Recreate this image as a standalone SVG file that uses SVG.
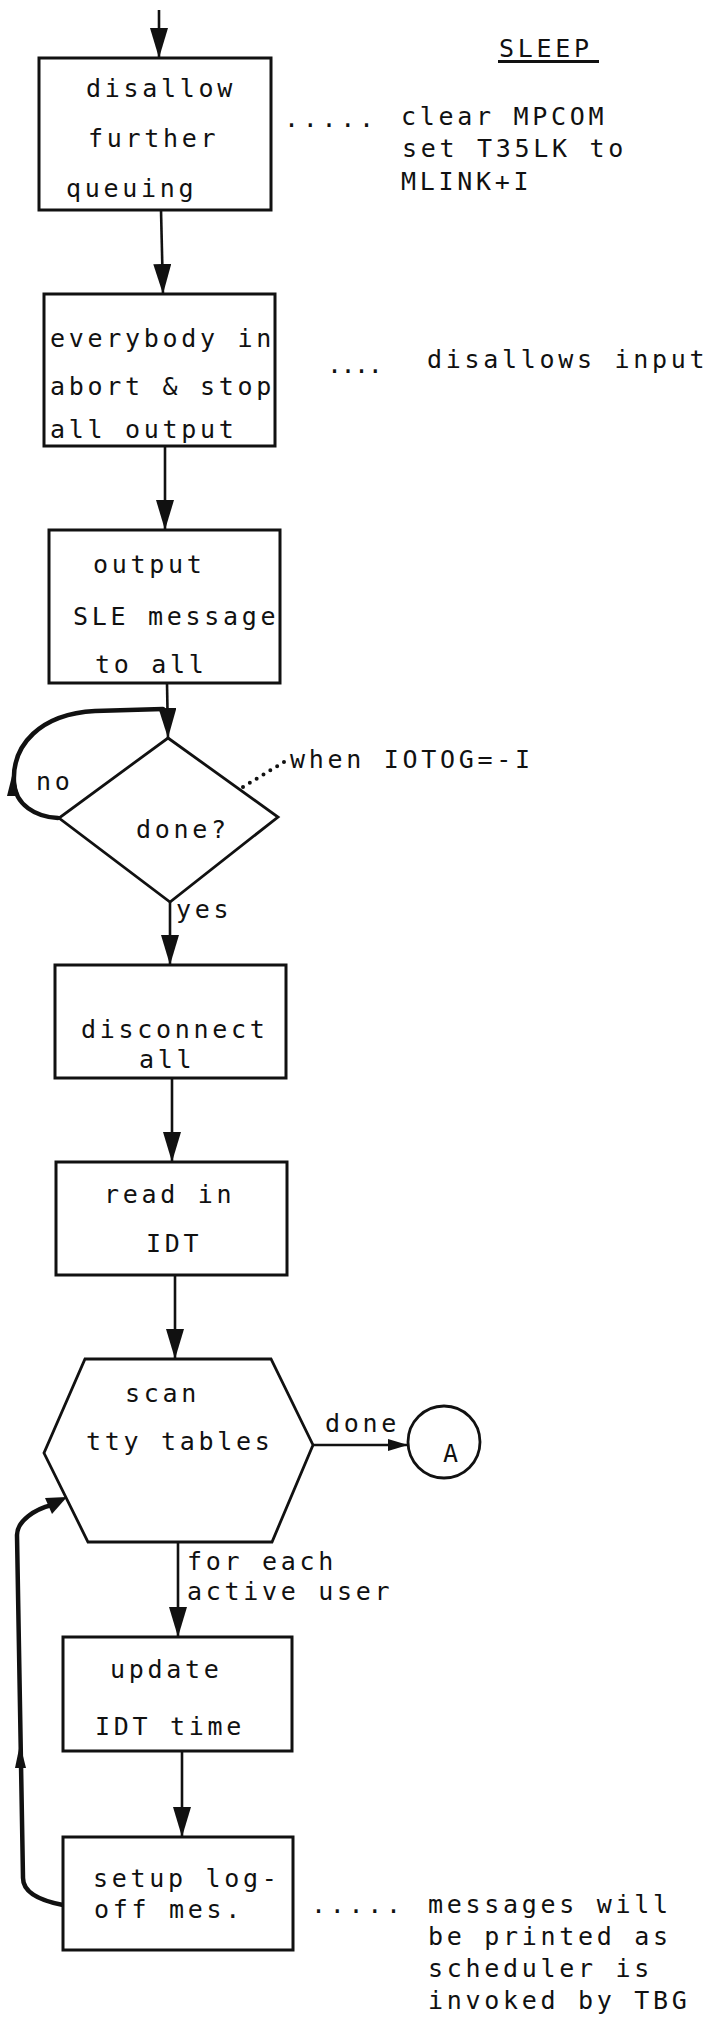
<svg xmlns="http://www.w3.org/2000/svg" width="720" height="2018" viewBox="0 0 720 2018">
<style>
text{font-family:"DejaVu Sans Mono","Liberation Mono",monospace;font-size:25px;letter-spacing:3.7px;fill:#111}
.box{fill:#fff;stroke:#111;stroke-width:3}
.shape{fill:#fff;stroke:#111;stroke-width:2.8;stroke-linejoin:miter}
.ln{fill:none;stroke:#111;stroke-width:2.6}
.thick{fill:none;stroke:#111;stroke-width:4.5;stroke-linecap:round}
.dots{fill:none;stroke:#111;stroke-width:4;stroke-linecap:round;stroke-dasharray:0 8}
</style>
<defs>
<marker id="ah" markerUnits="userSpaceOnUse" viewBox="0 0 30 18" markerWidth="30" markerHeight="18" refX="30" refY="9" orient="auto">
<path d="M0,0 L30,9 L0,18 Z" fill="#111"/>
</marker>
<marker id="ahs" markerUnits="userSpaceOnUse" viewBox="0 0 20 12" markerWidth="20" markerHeight="12" refX="20" refY="6" orient="auto">
<path d="M0,0 L20,6 L0,12 Z" fill="#111"/>
</marker>
</defs>
<rect width="720" height="2018" fill="#fff"/>

<g id="title">
<text x="499" y="57">SLEEP</text>
<rect x="498" y="60" width="101" height="3" fill="#111"/>
</g>

<g id="connectors">
<line class="ln" x1="159" y1="10" x2="159" y2="58" marker-end="url(#ah)"/>
<line class="ln" x1="161" y1="210" x2="163" y2="294" marker-end="url(#ah)"/>
<line class="ln" x1="165" y1="446" x2="165" y2="530" marker-end="url(#ah)"/>
<line class="ln" x1="167" y1="683" x2="168" y2="738" marker-end="url(#ah)"/>
<path class="thick" d="M58,818 C36,817 15,805 14,782 C12,745 40,714 95,711 L163,709"/>
<path d="M7,796 L13,772 L19,796 Z" fill="#111"/>
<line class="ln" x1="170" y1="902" x2="170" y2="965" marker-end="url(#ah)"/>
<line class="ln" x1="172" y1="1078" x2="172" y2="1162" marker-end="url(#ah)"/>
<line class="ln" x1="175" y1="1275" x2="175" y2="1359" marker-end="url(#ah)"/>
<line class="ln" x1="313" y1="1445" x2="408" y2="1445" marker-end="url(#ahs)"/>
<line class="ln" x1="178" y1="1542" x2="178" y2="1637" marker-end="url(#ah)"/>
<line class="ln" x1="182" y1="1751" x2="182" y2="1837" marker-end="url(#ah)"/>
<path class="thick" d="M63,1905 C42,1901 23,1894 23,1878 L17,1535 C17,1521 35,1509 52,1505"/>
<path d="M45,1498 L67,1497 L52,1514 Z" fill="#111"/>
<path d="M15,1768 L20,1744 L26,1768 Z" fill="#111"/>
<path class="dots" d="M243,787 L284,762"/>
</g>

<g id="n1">
<rect class="box" x="39" y="58" width="232" height="152"/>
<text x="86" y="97">disallow</text>
<text x="88" y="147">further</text>
<text x="66" y="197">queuing</text>
</g>
<g id="n1note">
<text x="284" y="127">.....</text>
<text x="401" y="125">clear MPCOM</text>
<text x="402" y="157">set T35LK to</text>
<text x="401" y="190">MLINK+I</text>
</g>

<g id="n2">
<rect class="box" x="44" y="294" width="231" height="152"/>
<text x="50" y="347">everybody in</text>
<text x="50" y="395">abort &amp; stop</text>
<text x="50" y="438">all output</text>
</g>
<g id="n2note">
<text x="327" y="373" style="letter-spacing:-1.5px">....</text>
<text x="427" y="368">disallows input</text>
</g>

<g id="n3">
<rect class="box" x="49" y="530" width="231" height="153"/>
<text x="93" y="573">output</text>
<text x="73" y="625">SLE message</text>
<text x="95" y="673">to all</text>
</g>

<g id="n4">
<polygon class="shape" points="168,738 278,817 170,902 59,818"/>
<text x="136" y="838">done?</text>
<text x="36" y="790">no</text>
<text x="290" y="768">when IOTOG=-I</text>
<text x="176" y="918">yes</text>
</g>

<g id="n5">
<rect class="box" x="55" y="965" width="231" height="113"/>
<text x="81" y="1038">disconnect</text>
<text x="139" y="1068">all</text>
</g>

<g id="n6">
<rect class="box" x="56" y="1162" width="231" height="113"/>
<text x="104" y="1203">read in</text>
<text x="146" y="1252">IDT</text>
</g>

<g id="n7">
<polygon class="shape" points="85,1359 271,1359 313,1445 272,1542 88,1542 44,1453"/>
<text x="125" y="1402">scan</text>
<text x="86" y="1450">tty tables</text>
<text x="325" y="1432">done</text>
</g>

<g id="n8">
<circle class="shape" cx="444" cy="1442" r="36"/>
<text x="443" y="1462">A</text>
</g>

<g id="n9label">
<text x="187" y="1570">for each</text>
<text x="187" y="1600">active user</text>
</g>

<g id="n9">
<rect class="box" x="63" y="1637" width="229" height="114"/>
<text x="110" y="1678">update</text>
<text x="95" y="1735">IDT time</text>
</g>

<g id="n10">
<rect class="box" x="63" y="1837" width="230" height="113"/>
<text x="93" y="1887">setup log-</text>
<text x="94" y="1918">off mes.</text>
</g>
<g id="n10note">
<text x="311" y="1913">.....</text>
<text x="428" y="1913">messages will</text>
<text x="428" y="1945">be printed as</text>
<text x="428" y="1977">scheduler is</text>
<text x="428" y="2009">invoked by TBG</text>
</g>
</svg>
